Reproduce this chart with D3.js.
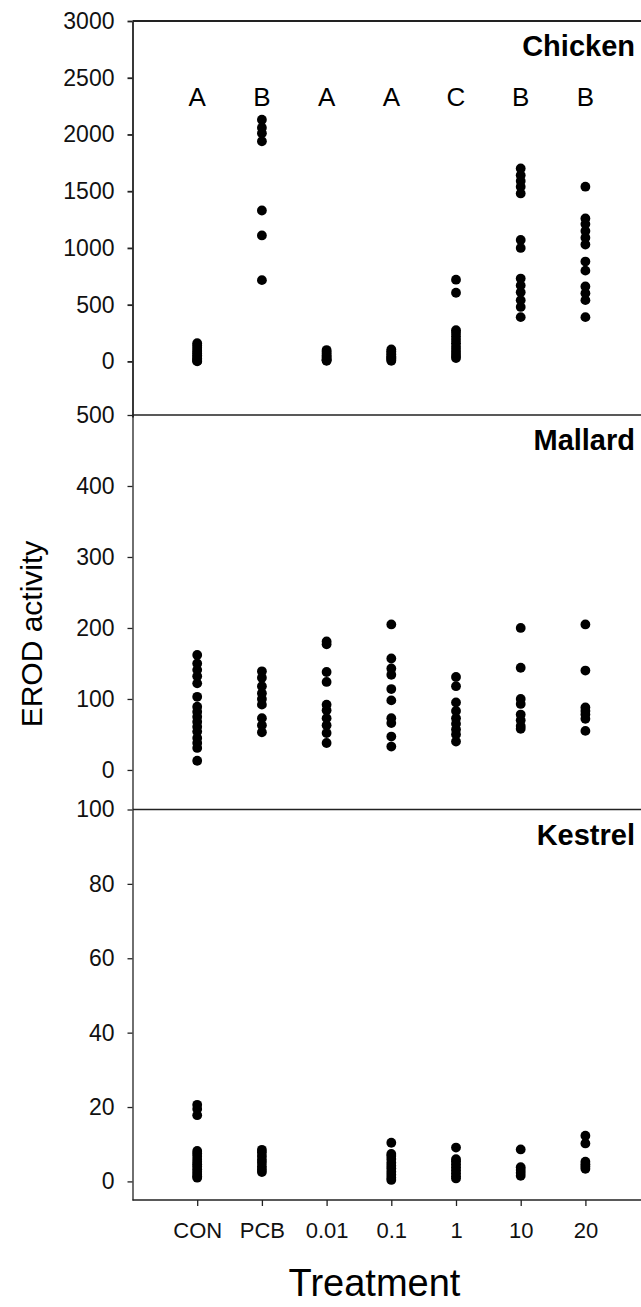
<!DOCTYPE html>
<html lang="en">
<head>
    <meta charset="UTF-8">
    <title>EROD activity by treatment</title>
    <script src="https://d3js.org/d3.v7.min.js"></script>
    <style>
        body {
            margin: 0;
            background: #fff;
            font-family: 'Liberation Sans', Arial, sans-serif;
        }
        svg { display: block; }
        .tick text { font-size: 22px; fill: #111; font-family: 'Liberation Sans', Arial, sans-serif; }
        .y-axis .tick text { font-size: 23px; }
        .tick line, .domain { stroke: #222; }
        .dot { fill: #000; }
    </style>
</head>
<body>
    <script>
        // treatment groups on the x axis
        const categories = ["CON", "PCB", "0.01", "0.1", "1", "10", "20"];
        const chickenLetters = ["A", "B", "A", "A", "C", "B", "B"];

        // EROD values per treatment
        const chickenValues = [
            [160, 140, 120, 100, 85, 70, 55, 40, 25, 15, 5, 0],
            [2130, 2060, 2010, 1940, 1330, 1110, 716],
            [100, 85, 70, 55, 40, 30, 20, 10, 5],
            [105, 90, 75, 60, 45, 35, 25, 15, 5],
            [720, 605, 275, 250, 220, 190, 160, 130, 100, 75, 50, 30],
            [1700, 1640, 1590, 1540, 1480, 1070, 1000, 730, 670, 610, 540, 480, 390],
            [1540, 1260, 1210, 1150, 1090, 1030, 880, 800, 660, 600, 540, 390]
        ];
        const mallardValues = [
            [162, 150, 141, 132, 122, 103, 89, 82, 75, 68, 61, 54, 45, 38, 31, 13],
            [139, 130, 118, 108, 100, 92, 73, 63, 53],
            [181, 177, 138, 124, 92, 84, 73, 63, 52, 38],
            [205, 157, 143, 134, 114, 98, 73, 66, 47, 33],
            [131, 118, 95, 83, 73, 65, 57, 50, 40],
            [200, 144, 100, 93, 78, 70, 62, 58],
            [205, 140, 88, 83, 78, 72, 55]
        ];
        const kestrelValues = [
            [20.6, 19.5, 17.8, 8.2, 7.5, 6.8, 6, 5.3, 4.6, 4, 3.3, 2.6, 2, 1.4, 1],
            [8.5, 7.8, 6.8, 5.8, 5, 4, 3.2, 2.5],
            [],
            [10.4, 7.4, 6.8, 6, 5, 4.2, 3.5, 2.6, 1.8, 1, 0.4],
            [9.1, 6, 5.4, 4.6, 3.8, 3, 2.2, 1.4, 0.8],
            [8.6, 3.8, 3.1, 2.3, 1.5],
            [12.3, 10.2, 5.3, 4.6, 4, 3.4]
        ];

        const chickenTicks = [0, 500, 1000, 1500, 2000, 2500, 3000];
        const mallardTicks = [0, 100, 200, 300, 400, 500];
        const kestrelTicks = [0, 20, 40, 60, 80, 100];

        const width = 641, height = 1307;
        const axisX = 132.5, step = 64.7;

        const svg = d3.select("body").append("svg")
            .attr("width", width)
            .attr("height", height);

        const x = d3.scalePoint()
            .domain(categories)
            .range([axisX, axisX + step * 8])
            .padding(1);

        const panels = [
            { name: "Chicken", values: chickenValues, ticks: chickenTicks, domain: [-490, 3000], top: 21, bottom: 417, stroke: 1.8 },
            { name: "Mallard", values: mallardValues, ticks: mallardTicks, domain: [-55, 500], top: 415, bottom: 809, stroke: 1.3 },
            { name: "Kestrel", values: kestrelValues, ticks: kestrelTicks, domain: [-5, 100], top: 809.5, bottom: 1200, stroke: 1.3 }
        ];

        panels.forEach(p => {
            const y = d3.scaleLinear().domain(p.domain).range([p.bottom, p.top]);
            const g = svg.append("g");

            const yAxis = g.append("g")
                .attr("class", "y-axis")
                .attr("transform", `translate(${axisX},0)`)
                .call(d3.axisLeft(y).tickValues(p.ticks).tickFormat(d3.format("d"))
                    .tickSize(5).tickSizeOuter(0).tickPadding(13));
            yAxis.selectAll("line, path").attr("stroke-width", p.stroke);

            // top frame line
            g.append("line")
                .attr("x1", axisX).attr("x2", width)
                .attr("y1", y(p.domain[1])).attr("y2", y(p.domain[1]))
                .attr("stroke", "#222")
                .attr("stroke-width", p.stroke);

            const pts = [];
            p.values.forEach((vals, i) => vals.forEach(v => pts.push({ cat: categories[i], v: v })));

            g.selectAll(".dot")
                .data(pts)
                .enter().append("circle")
                .attr("class", "dot")
                .attr("cx", d => x(d.cat))
                .attr("cy", d => y(d.v))
                .attr("r", 4.9);

            g.append("text")
                .attr("x", 635)
                .attr("y", p.top + 35)
                .attr("text-anchor", "end")
                .attr("font-size", "29px")
                .attr("font-weight", "bold")
                .text(p.name);
        });

        // significance letters for chicken
        svg.append("g").selectAll("text")
            .data(chickenLetters)
            .enter().append("text")
            .attr("x", (d, i) => x(categories[i]))
            .attr("y", 105.5)
            .attr("text-anchor", "middle")
            .attr("font-size", "26px")
            .text(d => d);

        // x axis under the kestrel panel
        const xAxis = svg.append("g")
            .attr("transform", "translate(0,1200)")
            .call(d3.axisBottom(x).tickSize(6).tickSizeOuter(0).tickPadding(16));
        xAxis.selectAll("line, path").attr("stroke-width", 1.3);
        xAxis.select(".domain").attr("d", `M${axisX},0H${width}`);

        svg.append("text")
            .attr("x", 374.5)
            .attr("y", 1296)
            .attr("text-anchor", "middle")
            .attr("font-size", "38px")
            .text("Treatment");

        svg.append("text")
            .attr("transform", "translate(41.5,634) rotate(-90)")
            .attr("text-anchor", "middle")
            .attr("font-size", "30px")
            .text("EROD activity");
    </script>
</body>
</html>
